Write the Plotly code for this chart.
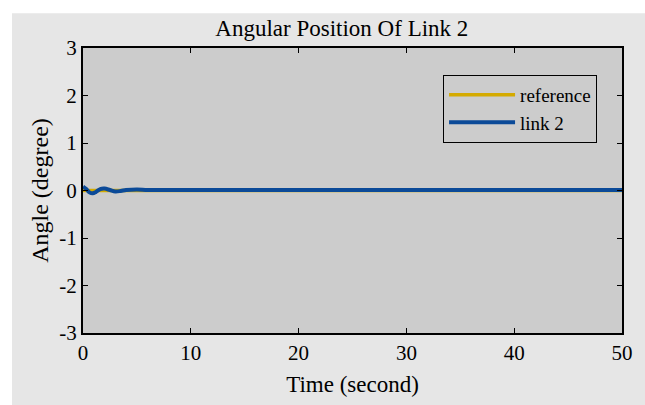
import plotly.graph_objects as go

# Data
time_s = [0, 0.3, 0.6, 0.9, 1.2, 1.6, 2.0, 2.5, 3.0, 3.5, 4.0, 5.0, 6.0, 8.0, 10, 15, 20, 25, 30, 35, 40, 45, 50]
link2_deg = [0.08, 0.03, -0.04, -0.06, -0.03, 0.03, 0.04, 0.01, -0.02, -0.01, 0.01, 0.02, 0.01, 0.01, 0.01, 0.01, 0.01, 0.01, 0.01, 0.01, 0.01, 0.01, 0.01]
ref_time = [0, 10, 20, 30, 40, 50]
ref_deg = [0, 0, 0, 0, 0, 0]

x_ticks = [0, 10, 20, 30, 40, 50]
x_labels = ["0", "10", "20", "30", "40", "50"]
y_ticks = [-3, -2, -1, 0, 1, 2, 3]
y_labels = ["-3", "-2", "-1", "0", "1", "2", "3"]

font_family = "Liberation Serif"

fig = go.Figure()
fig.add_trace(go.Scatter(x=ref_time, y=ref_deg, mode="lines", name="reference",
                         line=dict(color="#d4aa00", width=3.5)))
fig.add_trace(go.Scatter(x=time_s, y=link2_deg, mode="lines", name="link 2",
                         line=dict(color="#0b4a98", width=4, shape="spline")))

axis_common = dict(showline=True, linecolor="black", linewidth=2, mirror="ticks",
                   ticks="inside", ticklen=5, tickwidth=1, tickcolor="black",
                   showgrid=False, zeroline=False,
                   tickfont=dict(family=font_family, size=21, color="black"))

fig.update_layout(
    width=645, height=405,
    margin=dict(l=83, r=23, t=48, b=70),
    paper_bgcolor="white",
    plot_bgcolor="#cccccc",
    title=dict(text="Angular Position Of Link 2", x=0.53, xanchor="center", y=0.93, yanchor="middle",
               font=dict(family=font_family, size=23, color="black")),
    xaxis=dict(range=[0, 50], tickvals=x_ticks, ticktext=x_labels,
               title=dict(text="Time (second)", font=dict(family=font_family, size=23, color="black"), standoff=12),
               **axis_common),
    yaxis=dict(range=[-3, 3], tickvals=y_ticks, ticktext=y_labels,
               title=dict(text="Angle (degree)", font=dict(family=font_family, size=24, color="black"), standoff=4),
               **axis_common),
    legend=dict(x=0.668, y=0.906, xanchor="left", yanchor="top",
                bgcolor="#cccccc", bordercolor="black", borderwidth=1,
                font=dict(family=font_family, size=19, color="black"),
                tracegroupgap=0, itemwidth=66),
    showlegend=True,
    shapes=[
        dict(type="rect", xref="paper", yref="paper", x0=-0.1317, x1=1.05, y0=-0.26, y1=1.122,
             fillcolor="#e6e6e6", line=dict(width=0), layer="below"),
        dict(type="rect", xref="paper", yref="paper", x0=0, x1=1, y0=0, y1=1,
             fillcolor="#cccccc", line=dict(width=0), layer="below"),
    ],
)

fig.write_html("out.html", config={"displayModeBar": False},
               post_script="document.body.style.margin='0';")
